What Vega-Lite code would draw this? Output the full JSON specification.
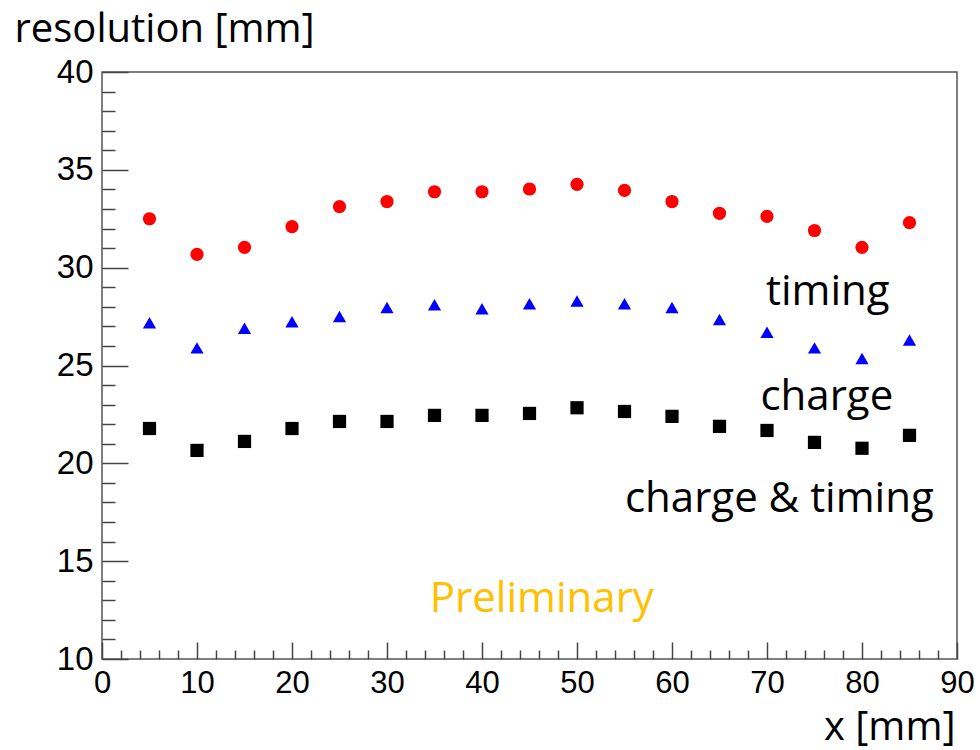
{
  "$schema": "https://vega.github.io/schema/vega-lite/v6.json",
  "width": 855,
  "height": 587,
  "autosize": {"type": "none"},
  "padding": {"left": 102, "top": 72, "right": 23, "bottom": 91},
  "background": "white",
  "config": {
    "view": {"stroke": "#555555", "strokeWidth": 1.5},
    "axis": {"grid": false, "domain": false, "tickColor": "#444444", "tickWidth": 1.5, "labelColor": "black", "labelFont": "Liberation Sans", "titleColor": "black", "titleFont": "Open Sans", "titleFontWeight": "normal", "labelOverlap": false, "labelFlush": false}
  },
  "layer": [
    {
      "data": {"values": [
        {"x": 5, "res": 32.5, "method": "timing"},
        {"x": 10, "res": 30.68, "method": "timing"},
        {"x": 15, "res": 31.04, "method": "timing"},
        {"x": 20, "res": 32.1, "method": "timing"},
        {"x": 25, "res": 33.12, "method": "timing"},
        {"x": 30, "res": 33.38, "method": "timing"},
        {"x": 35, "res": 33.88, "method": "timing"},
        {"x": 40, "res": 33.88, "method": "timing"},
        {"x": 45, "res": 34.02, "method": "timing"},
        {"x": 50, "res": 34.26, "method": "timing"},
        {"x": 55, "res": 33.95, "method": "timing"},
        {"x": 60, "res": 33.38, "method": "timing"},
        {"x": 65, "res": 32.78, "method": "timing"},
        {"x": 70, "res": 32.62, "method": "timing"},
        {"x": 75, "res": 31.9, "method": "timing"},
        {"x": 80, "res": 31.04, "method": "timing"},
        {"x": 85, "res": 32.3, "method": "timing"},
        {"x": 5, "res": 27.19, "method": "charge"},
        {"x": 10, "res": 25.9, "method": "charge"},
        {"x": 15, "res": 26.9, "method": "charge"},
        {"x": 20, "res": 27.24, "method": "charge"},
        {"x": 25, "res": 27.5, "method": "charge"},
        {"x": 30, "res": 27.96, "method": "charge"},
        {"x": 35, "res": 28.1, "method": "charge"},
        {"x": 40, "res": 27.9, "method": "charge"},
        {"x": 45, "res": 28.16, "method": "charge"},
        {"x": 50, "res": 28.3, "method": "charge"},
        {"x": 55, "res": 28.16, "method": "charge"},
        {"x": 60, "res": 27.96, "method": "charge"},
        {"x": 65, "res": 27.35, "method": "charge"},
        {"x": 70, "res": 26.7, "method": "charge"},
        {"x": 75, "res": 25.9, "method": "charge"},
        {"x": 80, "res": 25.36, "method": "charge"},
        {"x": 85, "res": 26.3, "method": "charge"},
        {"x": 5, "res": 21.78, "method": "charge & timing"},
        {"x": 10, "res": 20.66, "method": "charge & timing"},
        {"x": 15, "res": 21.12, "method": "charge & timing"},
        {"x": 20, "res": 21.78, "method": "charge & timing"},
        {"x": 25, "res": 22.14, "method": "charge & timing"},
        {"x": 30, "res": 22.14, "method": "charge & timing"},
        {"x": 35, "res": 22.45, "method": "charge & timing"},
        {"x": 40, "res": 22.45, "method": "charge & timing"},
        {"x": 45, "res": 22.55, "method": "charge & timing"},
        {"x": 50, "res": 22.84, "method": "charge & timing"},
        {"x": 55, "res": 22.65, "method": "charge & timing"},
        {"x": 60, "res": 22.4, "method": "charge & timing"},
        {"x": 65, "res": 21.89, "method": "charge & timing"},
        {"x": 70, "res": 21.68, "method": "charge & timing"},
        {"x": 75, "res": 21.07, "method": "charge & timing"},
        {"x": 80, "res": 20.77, "method": "charge & timing"},
        {"x": 85, "res": 21.43, "method": "charge & timing"}
      ]},
      "mark": {"type": "point", "filled": true, "opacity": 1, "strokeWidth": 0},
      "encoding": {
        "x": {"field": "x", "type": "quantitative", "scale": {"domain": [0, 90], "nice": false, "zero": false},
              "axis": {"orient": "bottom", "values": [0, 10, 20, 30, 40, 50, 60, 70, 80, 90], "tickSize": -17, "labelPadding": 26, "labelFontSize": 31, "title": "x [mm]", "titleFontSize": 40, "titleAnchor": null, "titleAlign": "right", "titleBaseline": "alphabetic", "titleX": 853, "titleY": 80}},
        "y": {"field": "res", "type": "quantitative", "scale": {"domain": [10, 40], "nice": false, "zero": false},
              "axis": {"orient": "left", "values": [10, 15, 20, 25, 30, 35, 40], "tickSize": -26, "labelPadding": 35, "labelFontSize": 33, "title": "resolution [mm]", "titleFontSize": 40, "titleAngle": 0, "titleAnchor": null, "titleAlign": "left", "titleBaseline": "alphabetic", "titleX": -88, "titleY": -31}},
        "color": {"field": "method", "type": "nominal", "scale": {"domain": ["timing", "charge", "charge & timing"], "range": ["#ff0000", "#0000ff", "#000000"]}, "legend": null},
        "shape": {"field": "method", "type": "nominal", "scale": {"domain": ["timing", "charge", "charge & timing"], "range": ["circle", "triangle-up", "square"]}, "legend": null},
        "size": {"field": "method", "type": "nominal", "scale": {"domain": ["timing", "charge", "charge & timing"], "range": [175, 175, 175]}, "legend": null}
      }
    },
    {
      "data": {"values": [
        {"x": 76.4, "res": 28.09, "label": "timing", "kind": "series"},
        {"x": 76.3, "res": 22.73, "label": "charge", "kind": "series"},
        {"x": 71.3, "res": 17.52, "label": "charge & timing", "kind": "series"},
        {"x": 46.3, "res": 12.41, "label": "Preliminary", "kind": "note"}
      ]},
      "mark": {"type": "text", "font": "Open Sans", "fontSize": 42, "align": "center", "baseline": "alphabetic"},
      "encoding": {
        "x": {"field": "x", "type": "quantitative", "scale": {"domain": [0, 90], "nice": false, "zero": false},
              "axis": {"orient": "bottom", "values": [2, 4, 6, 8, 12, 14, 16, 18, 22, 24, 26, 28, 32, 34, 36, 38, 42, 44, 46, 48, 52, 54, 56, 58, 62, 64, 66, 68, 72, 74, 76, 78, 82, 84, 86, 88], "tickSize": -9, "labels": false, "title": null}},
        "y": {"field": "res", "type": "quantitative", "scale": {"domain": [10, 40], "nice": false, "zero": false},
              "axis": {"orient": "left", "values": [11, 12, 13, 14, 16, 17, 18, 19, 21, 22, 23, 24, 26, 27, 28, 29, 31, 32, 33, 34, 36, 37, 38, 39], "tickSize": -13, "labels": false, "title": null}},
        "text": {"field": "label", "type": "nominal"},
        "color": {"field": "kind", "type": "nominal", "scale": {"domain": ["series", "note"], "range": ["#000000", "#ffc000"]}, "legend": null}
      }
    }
  ],
  "resolve": {"axis": {"x": "independent", "y": "independent"}, "scale": {"color": "independent"}}
}
